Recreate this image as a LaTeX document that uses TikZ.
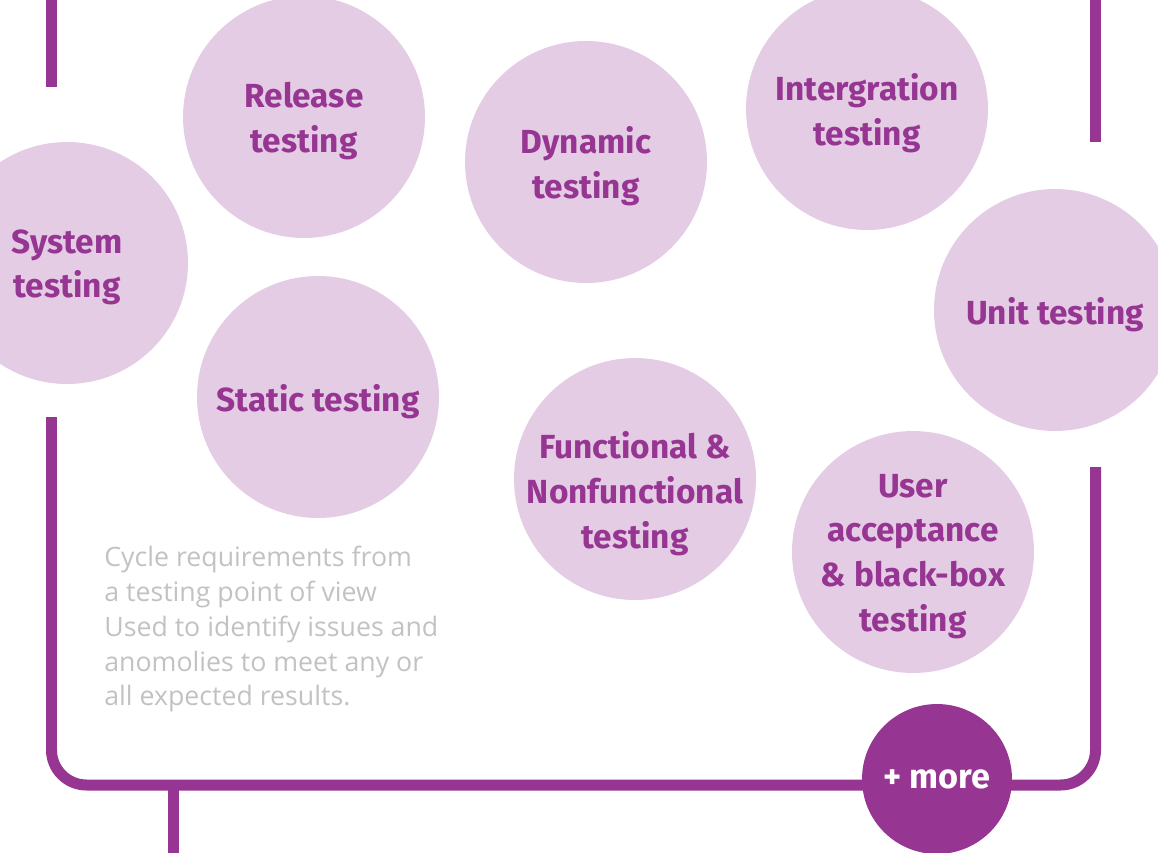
\documentclass[tikz,border=0pt]{standalone}
\usepackage{fontspec}
\setmainfont{Fira Sans}
\newfontfamily\notefont{Open Sans}
\usepackage{xcolor}
\definecolor{plum}{HTML}{963592}
\definecolor{lilac}{HTML}{E4CCE4}
\definecolor{notegray}{HTML}{C2C2C2}
\usepackage{tikz}
\usetikzlibrary{positioning}

\begin{document}
\begin{tikzpicture}[x=0.02cm, y=-0.02cm,
	bubble/.style={circle, fill=lilac, minimum size=4.84cm, inner sep=0},
	bubbletext/.style={align=center, inner sep=0, yshift=-2.5pt, text=plum, font=\bfseries\fontsize{19}{25.5}\selectfont},
	morebox/.style={circle, fill=plum, minimum size=3cm, inner sep=0, align=center, text=white, font=\bfseries\fontsize{19.5}{25.5}\selectfont},
	note/.style={anchor=north west, align=left, inner sep=0, text=notegray, font=\notefont\fontsize{15.2}{19.8}\selectfont},
	frame/.style={draw=plum, line width=0.22cm}
]
\useasboundingbox (0,0) rectangle (1158,852);
\clip (0,0) rectangle (1158,852);

% frame
\coordinate (ltop) at (51.5,0);
\coordinate (lend) at (51.5,87);
\coordinate (rtop) at (1095.5,0);
\coordinate (rend) at (1095.5,142);
\coordinate (lfoot) at (51.5,417);
\coordinate (rfoot) at (1095.5,467);
\coordinate (stub) at (173.5,785);

\draw[frame] (ltop) -- (lend);
\draw[frame] (rtop) -- (rend);
\draw[frame, rounded corners=0.7cm] (lfoot) -- (51.5,785) -- (1095.5,785) -- (rfoot);
\draw[frame] (stub) -- ++(0,80);

% bubbles
\node[bubble, label={[bubbletext]center:{Release\\testing}}] (release) at (304,117) {};
\node[bubble, label={[bubbletext]center:{Dynamic\\testing}}] (dynamic) at (586,162) {};
\node[bubble, label={[bubbletext]center:{Intergration\\testing}}] (integ) at (867,109) {};
\node[bubble, label={[bubbletext]center:{System\\testing}}] (system) at (67,263) {};
\node[bubble, label={[bubbletext]center:{Static testing}}] (static) at (318,397) {};
\node[bubble, label={[bubbletext]center:{Unit testing}}] (unit) at (1055,310) {};
\node[bubble, label={[bubbletext, yshift=-6pt]center:{Functional \&\\Nonfunctional\\testing}}] (func) at (635,479) {};
\node[bubble, label={[bubbletext]center:{User\\acceptance\\\& black-box\\testing}}] (user) at (913,552) {};

\node[morebox] (more) at (937,779) {+ more};

\node[note] (desc) at (104,546) {Cycle requirements from\\a testing point of view\\Used to identify issues and\\anomolies to meet any or\\all expected results.};
\end{tikzpicture}
\end{document}
